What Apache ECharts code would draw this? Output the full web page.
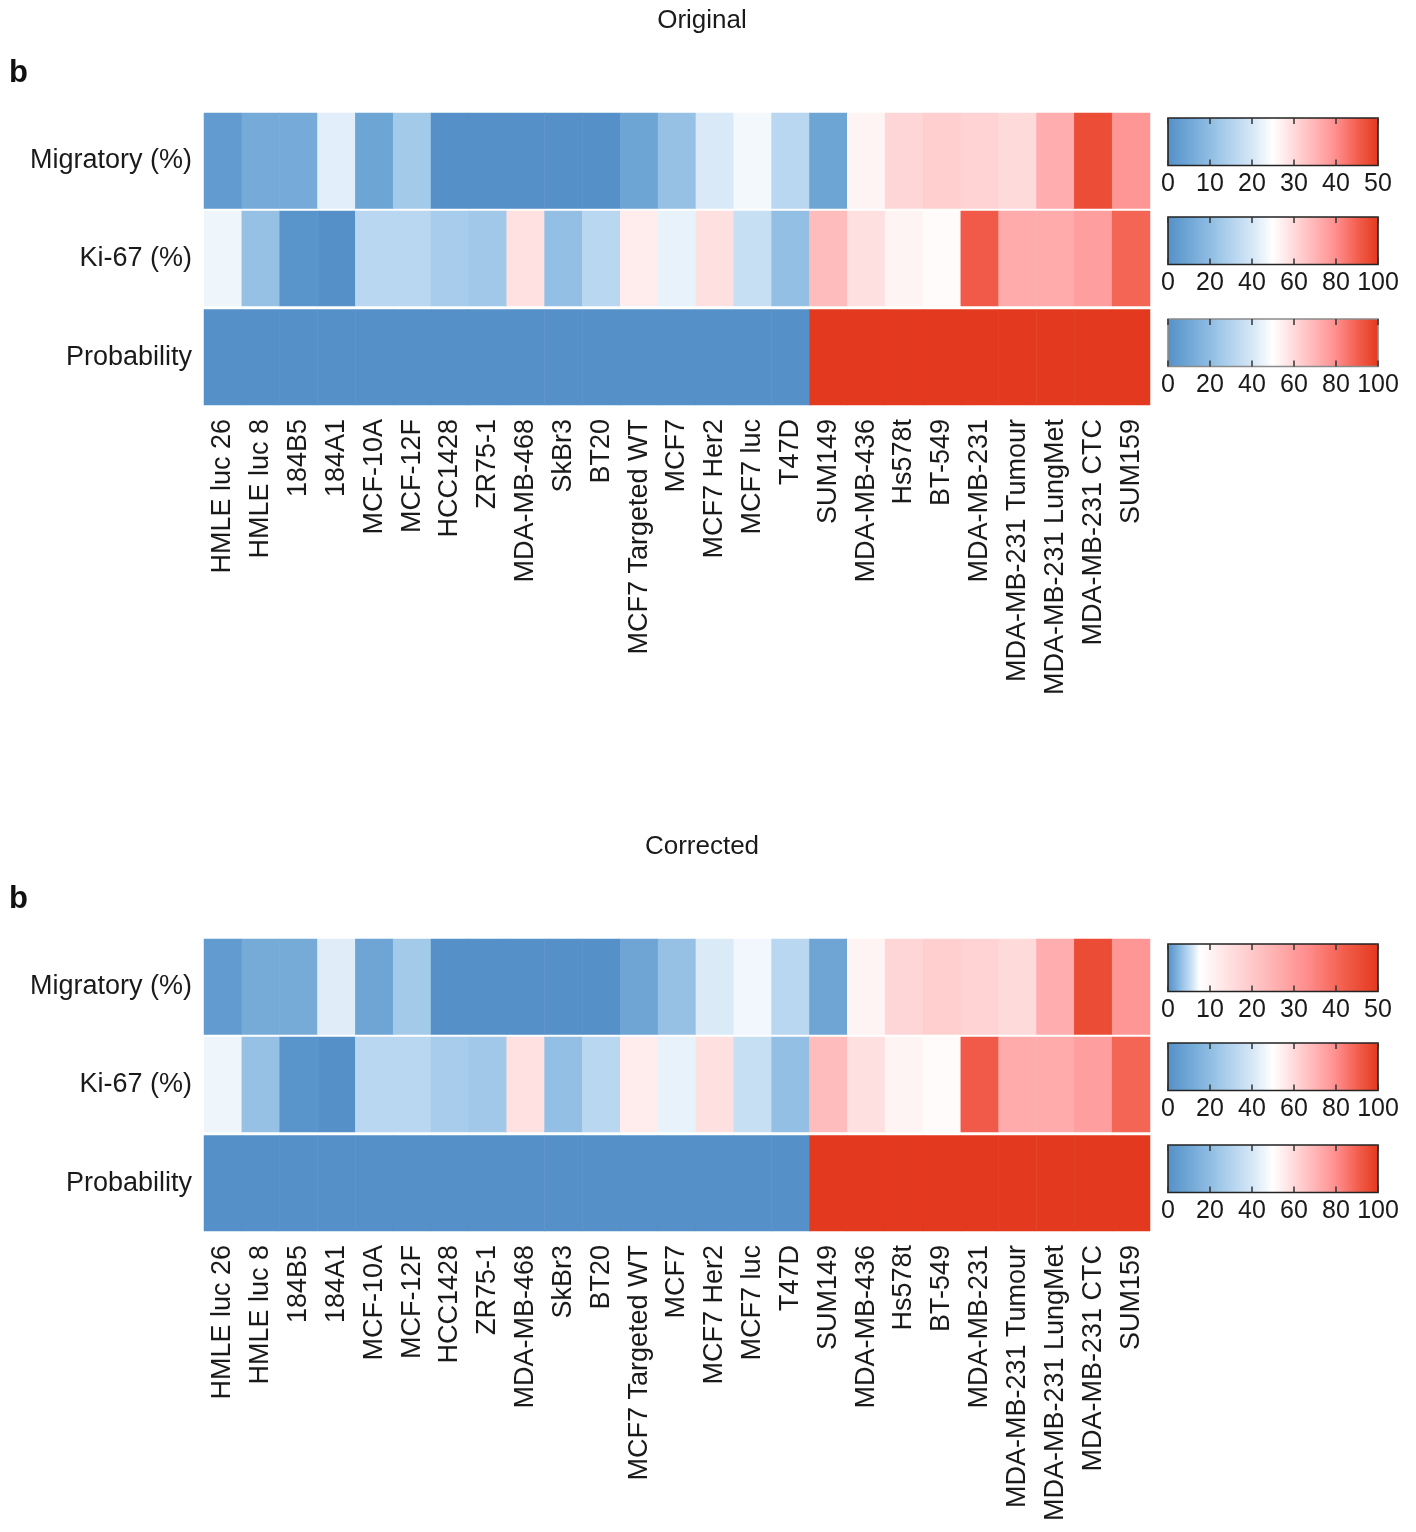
<!DOCTYPE html>
<html><head><meta charset="utf-8">
<script src="https://cdn.jsdelivr.net/npm/echarts@6/dist/echarts.min.js"></script>
<style>html,body{margin:0;padding:0;background:#fff}#c{width:1416px;height:1532px}</style>
</head><body><div id="c"></div>
<script>
// ---------------- data ----------------
const cellLines = ['HMLE luc 26','HMLE luc 8','184B5','184A1','MCF-10A','MCF-12F','HCC1428','ZR75-1',
  'MDA-MB-468','SkBr3','BT20','MCF7 Targeted WT','MCF7','MCF7 Her2','MCF7 luc','T47D','SUM149',
  'MDA-MB-436','Hs578t','BT-549','MDA-MB-231','MDA-MB-231 Tumour','MDA-MB-231 LungMet','MDA-MB-231 CTC','SUM159'];
const rowNames = ['Migratory (%)','Ki-67 (%)','Probability'];
const panelTitles = ['Original','Corrected'];
// Migratory (%) read against the original colour bar (white at 25)
const migratoryOriginal = [2.3,6,6,21.5,4.5,13,0,0,0,0,0,4.5,11,20.5,23.5,16,4.5,26.5,30.5,31.5,31,30,36,47.5,39];
// Migratory (%) read against the corrected colour bar (white near 7.5)
const migratoryCorrected = [0.7,1.8,1.8,6.4,1.4,3.9,0,0,0,0,0,1.4,3.3,6.2,7.0,4.8,1.4,10,16.9,18.6,17.7,16,26.2,45.8,31.3];
const ki67 = [46,22,1.5,0,32,32,27,25,58,21,32,55,44.5,58.5,36,21,68,58.5,53,51,91.5,72.5,72.5,76,89];
const probability = [0,0,0,0,0,0,0,0,0,0,0,0,0,0,0,0,100,100,100,100,100,100,100,100,100];
const migratoryTicks = [0,10,20,30,40,50];
const percentTicks = [0,20,40,60,80,100];
const whitePointOriginal = 25;
const whitePointCorrected = 7.5;

// ---------------- colours ----------------
const blueSide = ['#5590c8','#70a7d6','#8fbde3','#b2d3ee','#d5e7f6','#ffffff'];
const redSide  = ['#ffffff','#ffdadb','#ffb5b6','#ff8e8e','#f3604f','#e3391e'];
function hexRgb(h){h=h.replace('#','');return [0,2,4].map(i=>parseInt(h.substr(i,2),16));}
function sampleStops(stops,n){
  const out=[];
  for(let i=0;i<n;i++){
    const t=i/(n-1);
    let k=0; while(k<stops.length-2 && t>stops[k+1][0]) k++;
    const a=stops[k], b=stops[k+1];
    const f=Math.max(0,Math.min(1,(t-a[0])/(b[0]-a[0])));
    const ca=hexRgb(a[1]), cb=hexRgb(b[1]);
    out.push('rgb('+ca.map((v,j)=>Math.round(v+(cb[j]-v)*f)).join(',')+')');
  }
  return out;
}
function diverging(w){
  const stops = blueSide.map((c,i)=>[w*i/5,c]).concat(redSide.slice(1).map((c,i)=>[w+(1-w)*(i+1)/5,c]));
  return sampleStops(stops,101);
}

// ---------------- layout ----------------
const TXT = '#1a1a1a';
const FONT = 'Liberation Sans, Arial, Helvetica, sans-serif';
const heatLeft = 204, heatWidth = 946;
const rowTops = [113,211,309.5], rowHeights = [95.5,95,95.5];
const barLeft = 1168, barWidth = 210, barHeight = 47.5;
const barTops = [118,217,319];
const panelOffset = [0,826];

const grid=[], xAxis=[], yAxis=[], series=[], visualMap=[];

panelTitles.forEach((title,p)=>{
  const o = panelOffset[p];
  const rows = [p===0?migratoryOriginal:migratoryCorrected, ki67, probability];
  const tickSets = [migratoryTicks, percentTicks, percentTicks];
  const whites = [(p===0?whitePointOriginal:whitePointCorrected)/50, 0.5, 0.5];
  rows.forEach((vals,r)=>{
    const gi = grid.length;
    grid.push({left:heatLeft, top:rowTops[r]+o, width:heatWidth, height:rowHeights[r]});
    const xi = xAxis.length, yi = yAxis.length;
    xAxis.push({type:'category', gridIndex:gi, data:cellLines,
      axisLine:{show:false}, axisTick:{show:false}, splitLine:{show:false},
      axisLabel:{show:r===2, rotate:90, interval:0, margin:14, fontSize:27, color:TXT, fontFamily:FONT}});
    yAxis.push({type:'category', gridIndex:gi, data:[rowNames[r]],
      axisLine:{show:false}, axisTick:{show:false}, splitLine:{show:false},
      axisLabel:{margin:12, fontSize:27, color:TXT, fontFamily:FONT}});
    const si = series.length;
    series.push({type:'heatmap', xAxisIndex:xi, yAxisIndex:yi,
      data: vals.map((v,j)=>[j,0,v]), emphasis:{disabled:true}, itemStyle:{borderWidth:0}});
    const ticks = tickSets[r];
    visualMap.push({type:'continuous', seriesIndex:si, min:ticks[0], max:ticks[ticks.length-1],
      orient:'horizontal', left:barLeft, top:barTops[r]+o, itemWidth:barHeight, itemHeight:barWidth,
      calculable:false, hoverLink:false, padding:0, text:null,
      inRange:{color: diverging(whites[r])}});
    // colour-bar frame and ticks
    const bg = grid.length;
    const frameColor = (p===0 && r===2) ? '#8a8a8a' : '#222';
    grid.push({left:barLeft, top:barTops[r]+o, width:barWidth, height:barHeight, show:true,
      borderColor:frameColor, borderWidth:1.6, backgroundColor:'transparent', z:10});
    const common = {type:'value', gridIndex:bg, min:ticks[0], max:ticks[ticks.length-1], interval:ticks[1]-ticks[0],
      axisLine:{show:false}, splitLine:{show:false}, z:10,
      axisTick:{show:true, inside:true, length:6, lineStyle:{color:'#333', width:1.5}}};
    xAxis.push(Object.assign({}, common, {position:'bottom',
      axisLabel:{show:true, margin:6, fontSize:25, color:TXT, fontFamily:FONT}}));
    xAxis.push(Object.assign({}, common, {position:'top', axisLabel:{show:false}}));
    yAxis.push({type:'value', gridIndex:bg, show:false, min:0, max:1});
  });
});

const graphic = [];
panelTitles.forEach((t,p)=>{
  const o = panelOffset[p];
  graphic.push({type:'text', x:702, y:21+o, style:{text:t, fill:TXT, font:'26px '+FONT, textAlign:'center', textVerticalAlign:'middle'}});
  graphic.push({type:'text', x:9, y:73+o, style:{text:'b', fill:'#111', font:'bold 31px '+FONT, textAlign:'left', textVerticalAlign:'middle'}});
});

const chart = echarts.init(document.getElementById('c'), null, {renderer:'canvas'});
chart.setOption({animation:false, backgroundColor:'#fff', grid, xAxis, yAxis, series, visualMap, graphic});
</script></body></html>
